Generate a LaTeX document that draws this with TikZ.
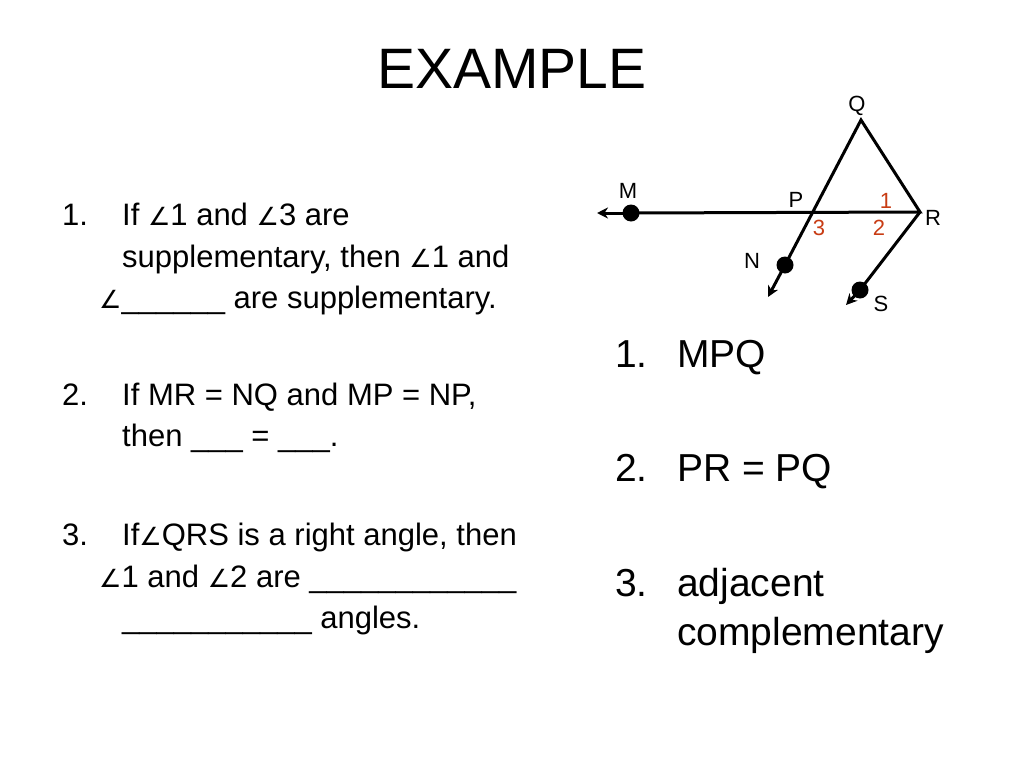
\documentclass[tikz,border=0pt]{standalone}
\usetikzlibrary{arrows.meta}
\usepackage{fontspec}
\setmainfont{Liberation Sans}
\newfontfamily\dv{DejaVu Sans}
\begin{document}
\begin{tikzpicture}[x=1pt,y=-1pt,
 lt/.style={anchor=base west,inner sep=0pt,font=\fontsize{31}{34}\selectfont},
 rt/.style={anchor=base west,inner sep=0pt,font=\fontsize{39}{42}\selectfont},
 lb/.style={inner sep=0pt,font=\fontsize{22}{24}\selectfont},
 rd/.style={lb,text={rgb,255:red,200;green,60;blue,20}},
 ln/.style={line width=3pt},
 ar/.style={ln,-{Stealth[length=11pt,width=11pt]}},
 dot/.style={circle,fill,inner sep=0pt,minimum size=17pt},
 ang/.style={font=\dv\fontsize{25}{28}\selectfont}]
\useasboundingbox (0,0) rectangle (1024,768);
\node[anchor=base,inner sep=0pt,font=\fontsize{57}{60}\selectfont] (title) at (512,88) {EXAMPLE};
% left list
\node[lt] (a1) at (62,225) {1.};
\node[lt] (a1a) at (122,225) {If {\dv\fontsize{25}{28}\selectfont∠}1 and {\dv\fontsize{25}{28}\selectfont∠}3 are};
\node[lt] (a1b) at (122,267) {supplementary, then {\dv\fontsize{25}{28}\selectfont∠}1 and};
\node[lt] (a1c) at (99,308) {{\dv\fontsize{25}{28}\selectfont∠}\_\_\_\_\_\_ are supplementary.};
\node[lt] (a2) at (62,405) {2.};
\node[lt] (a2a) at (122,405) {If MR = NQ and MP = NP,};
\node[lt] (a2b) at (122,446) {then \_\_\_ = \_\_\_.};
\node[lt] (a3) at (62,545) {3.};
\node[lt] (a3a) at (122,545) {If{\dv\fontsize{25}{28}\selectfont∠}QRS is a right angle, then};
\node[lt] (a3b) at (99,587) {{\dv\fontsize{25}{28}\selectfont∠}1 and {\dv\fontsize{25}{28}\selectfont∠}2 are \_\_\_\_\_\_\_\_\_\_\_\_};
\node[lt] (a3c) at (122,628) {\_\_\_\_\_\_\_\_\_\_\_ angles.};
% right list
\node[rt] (b1) at (615,367) {1.};
\node[rt] (b1a) at (677,367) {MPQ};
\node[rt] (b2) at (615,481) {2.};
\node[rt] (b2a) at (677,481) {PR = PQ};
\node[rt] (b3) at (615,596) {3.};
\node[rt] (b3a) at (677,596) {adjacent};
\node[rt] (b3b) at (677,645) {complementary};
% figure
\coordinate (Q) at (861,120);
\coordinate (R) at (920,212);
\coordinate (P) at (813,212);
\node[dot] (M) at (631,213) {};
\node[dot] (N) at (785,265) {};
\node[dot] (S) at (860,290) {};
\coordinate (Mt) at (597,213);
\coordinate (Nt) at (768,297);
\coordinate (St) at (846,305);
\draw[ln,line join=miter] (N.center) -- (Q) -- (R) -- (M.center);
\draw[ln] (R) -- (S.center);
\draw[ar] (M.center) -- (Mt);
\draw[ar] (N.center) -- (Nt);
\draw[ar] (S.center) -- (St);
\node[lb] (lQ) at (857,106) {Q};
\node[lb] (lM) at (628,191) {M};
\node[lb] (lP) at (796,200) {P};
\node[lb] (lR) at (933,218) {R};
\node[lb] (lN) at (752,261) {N};
\node[lb] (lS) at (881,304) {S};
\node[rd] (l1) at (886,201) {1};
\node[rd] (l2) at (879,228) {2};
\node[rd] (l3) at (819,228) {3};
\end{tikzpicture}
\end{document}
